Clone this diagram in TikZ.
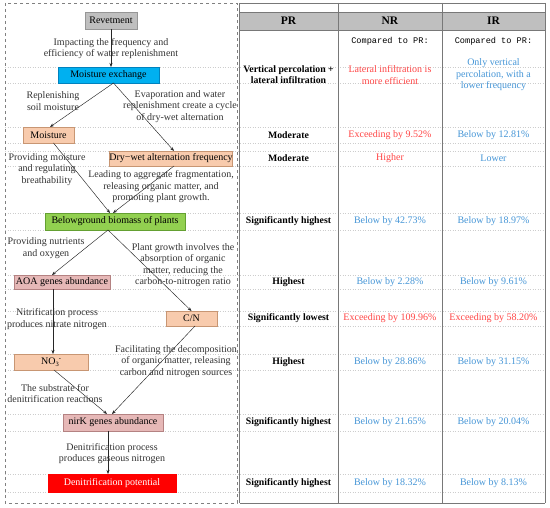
\documentclass[tikz,border=0pt]{standalone}
\usepackage{fontspec}
\setmainfont{Liberation Serif}
\newfontfamily\monofont{Liberation Mono}
\usetikzlibrary{arrows.meta}
\definecolor{gridc}{RGB}{205,205,205}
\definecolor{revfill}{RGB}{191,191,191}
\definecolor{revdraw}{RGB}{150,150,150}
\definecolor{mexfill}{RGB}{0,176,240}
\definecolor{mexdraw}{RGB}{0,130,190}
\definecolor{orfill}{RGB}{248,203,173}
\definecolor{ordraw}{RGB}{200,150,115}
\definecolor{grfill}{RGB}{146,208,80}
\definecolor{grdraw}{RGB}{100,160,50}
\definecolor{pkfill}{RGB}{230,184,183}
\definecolor{pkdraw}{RGB}{180,130,130}
\definecolor{rdfill}{RGB}{255,0,0}
\definecolor{txtred}{RGB}{255,70,70}
\definecolor{txtblue}{RGB}{70,150,215}
\definecolor{tabline}{RGB}{120,120,120}
\begin{document}
\begin{tikzpicture}[x=1pt,y=-1pt,
  every node/.style={font=\fontsize{10}{11.5}\selectfont, inner sep=0pt, outer sep=0pt},
  box/.style={draw, line width=0.6pt, align=center},
  lbl/.style={align=center, text=black!80},
  cell/.style={align=center},
  bcell/.style={align=center, font=\fontsize{9.8}{11}\selectfont\bfseries},
  rcell/.style={align=center, text=txtred},
  bluecell/.style={align=center, text=txtblue},
  hcell/.style={font=\fontsize{11.5}{13}\selectfont\bfseries},
  mcell/.style={font=\fontsize{8.6}{10}\selectfont\monofont},
  arr/.style={-{Stealth[length=4pt,width=3pt]}, line width=0.45pt, black!85},
  grid/.style={gridc, dotted, line width=0.5pt}]
\useasboundingbox (0,0) rectangle (550,508);
\fill[white] (0,0) rectangle (550,508);
% faint dotted grid lines
\foreach \yy in {67,83,127,143,151,166,213,230,275,289,311,326,354,370,414,431,474,492}
  \draw[grid] (5,\yy) -- (545,\yy);
% left dashed frame
\draw[dashed, gray, line width=0.5pt] (5,3) rectangle (237,503);
% table
\fill[revfill] (240,12) rectangle (545,30);
\draw[tabline, line width=0.6pt] (240,3) -- (545,3);
\draw[tabline, line width=0.6pt] (240,12) -- (545,12);
\draw[tabline, line width=0.6pt] (240,30) -- (545,30);
\draw[tabline, line width=0.6pt] (240,503) -- (545,503);
\draw[tabline, line width=0.8pt] (239,3) -- (239,503);
\draw[tabline, line width=0.8pt] (338,3) -- (338,503);
\draw[tabline, line width=0.8pt] (442,3) -- (442,503);
\draw[tabline, line width=0.8pt] (545,3) -- (545,503);
% flow boxes
\node[box, fill=revfill, draw=revdraw, minimum width=52pt, minimum height=17pt] (rev) at (111,20.5) {Revetment};
\node[box, fill=mexfill, draw=mexdraw, minimum width=101pt, minimum height=16pt] (mex) at (108.5,75) {Moisture exchange};
\node[box, fill=orfill, draw=ordraw, minimum width=51pt, minimum height=16pt] (moist) at (48.5,135) {Moisture};
\node[box, fill=orfill, draw=ordraw, minimum width=122pt, minimum height=15pt] (dw) at (171,158.5) {Dry\textminus wet alternation frequency};
\node[box, fill=grfill, draw=grdraw, minimum width=140pt, minimum height=17pt] (bio) at (115,221.5) {Belowground biomass of plants};
\node[box, fill=pkfill, draw=pkdraw, minimum width=96pt, minimum height=14pt] (aoa) at (62,282) {AOA genes abundance};
\node[box, fill=orfill, draw=ordraw, minimum width=51pt, minimum height=15pt] (cn) at (191.5,318.5) {C/N};
\node[box, fill=orfill, draw=ordraw, minimum width=74pt, minimum height=16pt] (no3) at (51,362) {NO\raisebox{-2pt}{\fontsize{6.5}{7}\selectfont 3}\raisebox{3.5pt}{\fontsize{6.5}{7}\selectfont -}};
\node[box, fill=pkfill, draw=pkdraw, minimum width=100pt, minimum height=17pt] (nirk) at (113,422.5) {nirK genes abundance};
\node[box, fill=rdfill, draw=rdfill, text=white, minimum width=128pt, minimum height=18pt] (den) at (112,483) {Denitrification potential};
% arrows
\draw[arr] (rev.south) -- (rev.south |- mex.north);
\draw[arr] ([xshift=5pt]mex.south) -- ([xshift=1.5pt]moist.north);
\draw[arr] ([xshift=5pt]mex.south) -- ([xshift=3pt]dw.north);
\draw[arr] ([xshift=5pt]moist.south) -- ([xshift=-5pt]bio.north);
\draw[arr] ([xshift=3pt]dw.south) -- ([xshift=-2pt]bio.north);
\draw[arr] ([xshift=-7pt]bio.south) -- ([xshift=-10pt]aoa.north);
\draw[arr] ([xshift=-7pt]bio.south) -- (cn.north);
\draw[arr] ([xshift=-9pt]aoa.south) -- ([xshift=-9pt]aoa.south |- no3.north);
\draw[arr] ([xshift=3pt]no3.south) -- ([xshift=-6pt]nirk.north);
\draw[arr] ([xshift=3.5pt]cn.south) -- ([xshift=-1pt]nirk.north);
\draw[arr] ([xshift=-5pt]nirk.south) -- ([xshift=-5pt]nirk.south |- den.north);
% flow labels
\node[lbl] (l1) at (111,48.5) {Impacting the frequency and\\efficiency of water replenishment};
\node[lbl] (l2) at (53,101) {Replenishing\\soil moisture};
\node[lbl] (l3) at (180,106.5) {Evaporation and water\\replenishment create a cycle\\of dry-wet alternation};
\node[lbl] (l4) at (47,169.5) {Providing moisture\\and regulating\\breathability};
\node[lbl] (l5) at (161,187) {Leading to aggregate fragmentation,\\releasing organic matter, and\\promoting plant growth.};
\node[lbl] (l6) at (46,248) {Providing nutrients\\and oxygen};
\node[lbl] (l7) at (183,265) {Plant growth involves the\\absorption of organic\\matter, reducing the\\carbon-to-nitrogen ratio};
\node[lbl] (l8) at (57,319) {Nitrification process\\produces nitrate nitrogen};
\node[lbl] (l9) at (176,361.5) {Facilitating the decomposition\\of organic matter, releasing\\carbon and nitrogen sources};
\node[lbl] (l10) at (55,393.5) {The substrate for\\denitrification reactions};
\node[lbl] (l11) at (112,453.5) {Denitrification process\\produces gaseous nitrogen};
% table header
\node[hcell] (hpr) at (288.5,21) {PR};
\node[hcell] (hnr) at (390,21) {NR};
\node[hcell] (hir) at (493.5,21) {IR};
\node[mcell] (cmp1) at (390,41) {Compared to PR:};
\node[mcell] (cmp2) at (493.5,41) {Compared to PR:};
% rows
\node[bcell] (r1a) at (288.5,75) {Vertical percolation +\\lateral infiltration};
\node[rcell] (r1b) at (390,75) {Lateral infiltration is\\more efficient};
\node[bluecell] (r1c) at (493.5,75) {Only vertical\\percolation, with a\\lower frequency};
\node[bcell] (r2a) at (288.5,135) {Moderate};
\node[rcell] (r2b) at (390,135) {Exceeding by 9.52\%};
\node[bluecell] (r2c) at (493.5,135) {Below by 12.81\%};
\node[bcell] (r3a) at (288.5,158.5) {Moderate};
\node[rcell] (r3b) at (390,158.5) {Higher};
\node[bluecell] (r3c) at (493.5,158.5) {Lower};
\node[bcell] (r4a) at (288.5,221.5) {Significantly highest};
\node[bluecell] (r4b) at (390,221.5) {Below by 42.73\%};
\node[bluecell] (r4c) at (493.5,221.5) {Below by 18.97\%};
\node[bcell] (r5a) at (288.5,282) {Highest};
\node[bluecell] (r5b) at (390,282) {Below by 2.28\%};
\node[bluecell] (r5c) at (493.5,282) {Below by 9.61\%};
\node[bcell] (r6a) at (288.5,318.5) {Significantly lowest};
\node[rcell] (r6b) at (390,318.5) {Exceeding by 109.96\%};
\node[rcell] (r6c) at (493.5,318.5) {Exceeding by 58.20\%};
\node[bcell] (r7a) at (288.5,362) {Highest};
\node[bluecell] (r7b) at (390,362) {Below by 28.86\%};
\node[bluecell] (r7c) at (493.5,362) {Below by 31.15\%};
\node[bcell] (r8a) at (288.5,422.5) {Significantly highest};
\node[bluecell] (r8b) at (390,422.5) {Below by 21.65\%};
\node[bluecell] (r8c) at (493.5,422.5) {Below by 20.04\%};
\node[bcell] (r9a) at (288.5,483) {Significantly highest};
\node[bluecell] (r9b) at (390,483) {Below by 18.32\%};
\node[bluecell] (r9c) at (493.5,483) {Below by 8.13\%};
\end{tikzpicture}
\end{document}
